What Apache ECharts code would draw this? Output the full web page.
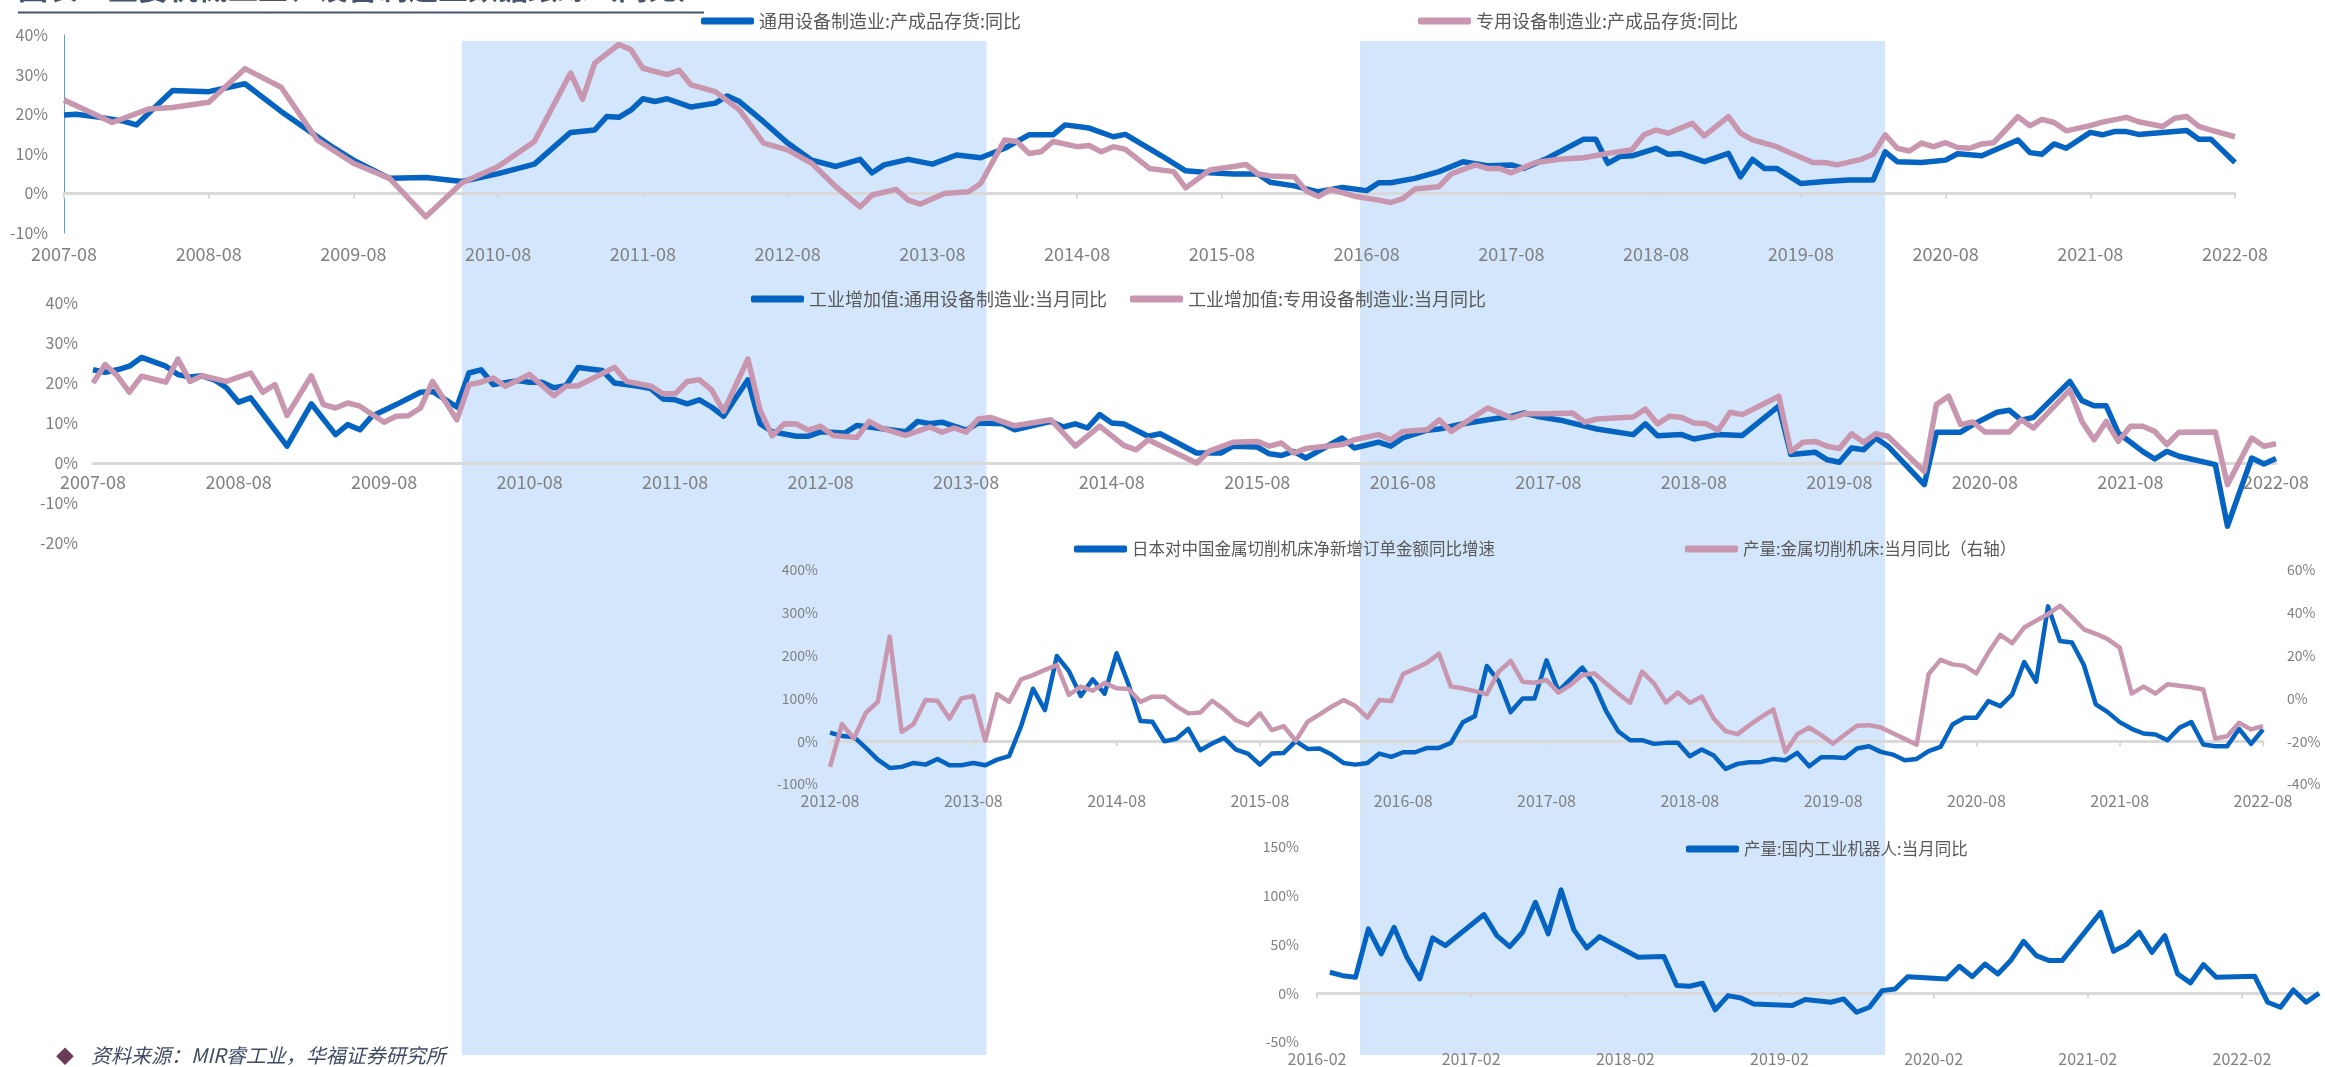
<!DOCTYPE html>
<html>
<head>
<meta charset="utf-8">
<script src="https://cdn.jsdelivr.net/npm/echarts@6.0.0/dist/echarts.min.js"></script>
<style>
html, body { margin: 0; padding: 0; background: #ffffff; }
#chart { width: 2325px; height: 1067px; }
</style>
</head>
<body>
<div id="chart"></div>
<script>
// ---------- categories ----------
function monthRange(start, end) {
  const out = [];
  let [y, m] = start.split('-').map(Number);
  const [ey, em] = end.split('-').map(Number);
  while (y < ey || (y === ey && m <= em)) {
    out.push(y + '-' + String(m).padStart(2, '0'));
    m += 1;
    if (m > 12) { m = 1; y += 1; }
  }
  return out;
}
const monthsLong = monthRange('2007-08', '2022-08');   // panels 1 & 2
const monthsTool = monthRange('2012-08', '2022-08');   // machine tools
const monthsRobot = monthRange('2016-02', '2022-08');  // industrial robots

// ---------- series names ----------
const NAME_INV_GEN = '通用设备制造业:产成品存货:同比';
const NAME_INV_SPE = '专用设备制造业:产成品存货:同比';
const NAME_VA_GEN = '工业增加值:通用设备制造业:当月同比';
const NAME_VA_SPE = '工业增加值:专用设备制造业:当月同比';
const NAME_JP = '日本对中国金属切削机床净新增订单金额同比增速';
const NAME_TOOL = '产量:金属切削机床:当月同比（右轴）';
const NAME_ROBOT = '产量:国内工业机器人:当月同比';

// ---------- values (%) ----------
const invGeneral = [['2007-08',19.8],['2007-09',20],['2007-11',19.2],['2008-01',18.2],['2008-02',17.3],['2008-05',26],['2008-08',25.7],['2008-11',27.7],['2009-02',20.7],['2009-06',12.2],['2009-08',8.4],['2009-11',3.8],['2010-02',4],['2010-05',3],['2010-08',5],['2010-11',7.4],['2011-02',15.4],['2011-04',16],['2011-05',19.4],['2011-06',19.2],['2011-07',21],['2011-08',23.9],['2011-09',23.2],['2011-10',23.9],['2011-12',21.8],['2012-02',22.8],['2012-03',24.6],['2012-04',23.2],['2012-06',18.1],['2012-08',12.7],['2012-10',8.4],['2012-12',6.8],['2013-02',8.6],['2013-03',5.2],['2013-04',7.2],['2013-06',8.6],['2013-08',7.4],['2013-10',9.7],['2013-12',9],['2014-02',11.4],['2014-04',14.8],['2014-06',14.8],['2014-07',17.3],['2014-09',16.5],['2014-11',14.3],['2014-12',14.9],['2015-03',9.5],['2015-05',5.7],['2015-07',5.2],['2015-09',4.9],['2015-11',4.9],['2015-12',2.8],['2016-02',1.9],['2016-04',0.4],['2016-06',1.5],['2016-08',0.7],['2016-09',2.7],['2016-10',2.7],['2016-12',3.8],['2017-02',5.5],['2017-04',8],['2017-06',7],['2017-08',7.2],['2017-09',6.3],['2017-11',8.9],['2018-02',13.7],['2018-03',13.7],['2018-04',7.6],['2018-05',9.3],['2018-06',9.5],['2018-08',11.4],['2018-09',9.9],['2018-10',10.1],['2018-12',8],['2019-02',10.1],['2019-03',4.2],['2019-04',8.6],['2019-05',6.3],['2019-06',6.3],['2019-08',2.5],['2019-10',3],['2019-12',3.4],['2020-02',3.4],['2020-03',10.5],['2020-04',8],['2020-06',7.8],['2020-08',8.4],['2020-09',10],['2020-11',9.5],['2021-02',13.5],['2021-03',10.3],['2021-04',9.9],['2021-05',12.5],['2021-06',11.4],['2021-08',15.4],['2021-09',14.8],['2021-10',15.6],['2021-11',15.6],['2021-12',14.9],['2022-02',15.4],['2022-04',15.9],['2022-05',13.7],['2022-06',13.7],['2022-08',7.8]];

const invSpecial = [['2007-08',23.6],['2007-12',17.9],['2008-03',21.3],['2008-05',21.7],['2008-08',23],['2008-11',31.5],['2009-02',26.8],['2009-05',13.5],['2009-08',7.6],['2009-11',3.8],['2010-02',-5.9],['2010-05',2.7],['2010-08',6.8],['2010-11',13.1],['2011-02',30.4],['2011-03',23.8],['2011-04',32.9],['2011-06',37.6],['2011-07',36.3],['2011-08',31.6],['2011-10',30],['2011-11',31.1],['2011-12',27.4],['2012-02',25.7],['2012-04',21.1],['2012-06',12.7],['2012-08',11],['2012-10',7.6],['2012-12',1.7],['2013-02',-3.4],['2013-03',-0.4],['2013-05',1],['2013-06',-1.7],['2013-07',-2.7],['2013-09',0],['2013-11',0.4],['2013-12',2.5],['2014-02',13.5],['2014-03',13.1],['2014-04',10.1],['2014-05',10.5],['2014-06',13.1],['2014-08',11.8],['2014-09',12.1],['2014-10',10.5],['2014-11',11.8],['2014-12',11.1],['2015-02',6.3],['2015-04',5.5],['2015-05',1.4],['2015-07',5.9],['2015-09',6.8],['2015-10',7.3],['2015-11',4.9],['2015-12',4.4],['2016-02',4.2],['2016-03',0.6],['2016-04',-0.8],['2016-05',1],['2016-07',-0.7],['2016-09',-1.7],['2016-10',-2.3],['2016-11',-1.3],['2016-12',1.1],['2017-02',1.7],['2017-03',4.9],['2017-05',7.2],['2017-06',6.3],['2017-07',6.3],['2017-08',5.2],['2017-10',7.8],['2017-12',8.6],['2018-02',9],['2018-04',10.1],['2018-06',11],['2018-07',14.8],['2018-08',16],['2018-09',15.2],['2018-11',17.7],['2018-12',14.5],['2019-02',19.4],['2019-03',15.2],['2019-04',13.5],['2019-06',11.8],['2019-07',10.4],['2019-09',7.8],['2019-10',7.8],['2019-11',7.2],['2020-01',8.6],['2020-02',9.9],['2020-03',14.8],['2020-04',11.4],['2020-05',10.7],['2020-06',12.7],['2020-07',11.8],['2020-08',12.8],['2020-09',11.6],['2020-10',11.4],['2020-11',12.5],['2020-12',12.8],['2021-02',19.4],['2021-03',17.1],['2021-04',18.7],['2021-05',17.9],['2021-06',15.8],['2021-08',17.1],['2021-09',18],['2021-11',19.2],['2021-12',18.1],['2022-02',16.9],['2022-03',19],['2022-04',19.4],['2022-05',16.9],['2022-06',16],['2022-08',14.3]];

const vaGeneral = [['2007-08',23.3],['2007-09',22.7],['2007-10',23.3],['2007-11',24.2],['2007-12',26.4],['2008-02',24.2],['2008-03',22.1],['2008-04',21.5],['2008-05',21.8],['2008-06',20.8],['2008-07',18.8],['2008-08',15.2],['2008-09',16.3],['2008-12',4.2],['2009-02',14.8],['2009-04',7.1],['2009-05',9.6],['2009-06',8.3],['2009-07',11.7],['2009-09',14.6],['2009-11',17.7],['2009-12',17.9],['2010-02',14],['2010-03',22.5],['2010-04',23.3],['2010-05',19.6],['2010-07',20.6],['2010-08',20.2],['2010-09',20.2],['2010-10',18.8],['2010-11',19.3],['2010-12',23.9],['2011-02',23.1],['2011-03',20],['2011-05',19.2],['2011-06',18.6],['2011-07',16],['2011-08',15.8],['2011-09',14.8],['2011-10',15.8],['2011-11',14],['2011-12',11.7],['2012-01',16.3],['2012-02',20.8],['2012-03',9.8],['2012-04',7.8],['2012-06',6.7],['2012-07',6.7],['2012-08',7.8],['2012-10',7.5],['2012-11',9.4],['2012-12',9],['2013-03',7.8],['2013-04',10.4],['2013-05',9.8],['2013-06',10.2],['2013-08',8.2],['2013-09',10],['2013-11',9.8],['2013-12',8.3],['2014-03',10.4],['2014-04',9],['2014-05',9.8],['2014-06',8.75],['2014-07',12.1],['2014-08',10],['2014-09',9.75],['2014-11',6.7],['2014-12',7.3],['2015-03',2.5],['2015-05',2.5],['2015-06',4.2],['2015-08',4],['2015-09',2.3],['2015-10',1.9],['2015-11',2.9],['2015-12',1.25],['2016-03',6.25],['2016-04',3.75],['2016-06',5.2],['2016-07',4.2],['2016-08',6.25],['2016-10',8.2],['2016-11',8.5],['2017-01',9.8],['2017-03',10.8],['2017-05',11.7],['2017-06',12.5],['2017-07',11.7],['2017-09',10.7],['2017-11',9.2],['2017-12',8.5],['2018-03',7.1],['2018-04',9.8],['2018-05',6.8],['2018-07',7.1],['2018-08',6],['2018-10',7.1],['2018-12',6.9],['2019-03',14.2],['2019-04',2.1],['2019-06',2.7],['2019-07',0.8],['2019-08',0.2],['2019-09',3.75],['2019-10',3.3],['2019-11',6.25],['2019-12',4.2],['2020-03',-5.4],['2020-04',7.7],['2020-06',7.7],['2020-07',9.6],['2020-09',12.7],['2020-10',13.2],['2020-11',10.7],['2020-12',11.4],['2021-03',20.4],['2021-04',15.6],['2021-05',14.3],['2021-06',14.3],['2021-07',7.5],['2021-09',2.9],['2021-10',1],['2021-11',2.9],['2021-12',1.7],['2022-03',-0.4],['2022-04',-15.8],['2022-06',1.25],['2022-07',-0.25],['2022-08',1.1]];

const vaSpecial = [['2007-08',20],['2007-09',24.6],['2007-10',21.8],['2007-11',17.7],['2007-12',21.7],['2008-02',20.2],['2008-03',26],['2008-04',20.4],['2008-05',21.8],['2008-07',20.4],['2008-09',22.5],['2008-10',17.7],['2008-11',19.6],['2008-12',11.9],['2009-02',21.8],['2009-03',14.6],['2009-04',13.75],['2009-05',15],['2009-06',14.2],['2009-08',10.2],['2009-09',11.7],['2009-10',11.8],['2009-11',13.75],['2009-12',20.4],['2010-02',10.8],['2010-03',19.6],['2010-04',20.2],['2010-05',21.25],['2010-06',19.2],['2010-08',22.1],['2010-10',16.8],['2010-11',19.2],['2010-12',19.3],['2011-03',23.9],['2011-04',20.4],['2011-06',19.2],['2011-07',17.3],['2011-08',17.3],['2011-09',20.4],['2011-10',20.8],['2011-11',18.3],['2011-12',12.9],['2012-02',26],['2012-03',13.3],['2012-04',6.8],['2012-05',9.8],['2012-06',9.75],['2012-07',8.2],['2012-08',9.2],['2012-09',6.9],['2012-11',6.4],['2012-12',10.4],['2013-01',8.75],['2013-03',6.9],['2013-05',9],['2013-06',7.7],['2013-07',8.75],['2013-08',7.7],['2013-09',11],['2013-10',11.4],['2013-12',9.3],['2014-03',10.8],['2014-05',4.2],['2014-07',9.2],['2014-09',4.4],['2014-10',3.3],['2014-11',5.8],['2015-03',0],['2015-04',2.9],['2015-06',5.2],['2015-08',5.4],['2015-09',4.2],['2015-10',5],['2015-11',2.5],['2015-12',3.6],['2016-03',4.6],['2016-04',5.8],['2016-06',7.1],['2016-07',5.8],['2016-08',7.9],['2016-10',8.3],['2016-11',10.8],['2016-12',7.9],['2017-03',13.75],['2017-05',11.25],['2017-06',12.3],['2017-08',12.3],['2017-10',12.5],['2017-11',10.2],['2017-12',11],['2018-03',11.5],['2018-04',13.5],['2018-05',9.8],['2018-06',11.7],['2018-07',11.4],['2018-08',10],['2018-09',9.8],['2018-10',8.2],['2018-11',12.7],['2018-12',12.1],['2019-03',16.7],['2019-04',2.9],['2019-05',5.2],['2019-06',5.4],['2019-07',4.2],['2019-08',3.6],['2019-09',7.3],['2019-10',5.2],['2019-11',7.3],['2019-12',6.7],['2020-03',-2.1],['2020-04',14.6],['2020-05',16.7],['2020-06',9.6],['2020-07',10.25],['2020-08',7.75],['2020-10',7.75],['2020-11',10.8],['2020-12',8.75],['2021-03',18.3],['2021-04',10.4],['2021-05',5.8],['2021-06',10.4],['2021-07',5.4],['2021-08',9.2],['2021-09',9.2],['2021-10',7.9],['2021-11',4.6],['2021-12',7.7],['2022-03',7.75],['2022-04',-5.4],['2022-06',6.25],['2022-07',4.2],['2022-08',4.8]];

// monthly, 2012-08 .. 2022-08 (left axis)
const jpOrders = [
  20, 12, 10, -15.6, -43, -62.5, -60, -50.8, -54.7, -41.4,
  -56, -56, -50.8, -56, -43, -35, 35, 122.7, 72.7, 199,
  164, 105.5, 144.5, 111, 205.5, 132.8, 47, 45.3, 0, 5.5,
  29, -21, -5.5, 7.8, -19.5, -29, -54.7, -29, -27.3, 0,
  -18, -17.2, -31.25, -50.8, -54.7, -50.8, -29, -36.7, -25.8, -25.8,
  -15.6, -15.6, -3.9, 44.5, 58.6, 175.8, 140.6, 68, 100, 100,
  189, 117, 144.5, 172, 133, 70, 23.4, 2.3, 2.3, -6.25,
  -3.9, -3.9, -35, -19.5, -33.6, -64.8, -53, -49, -48.4, -41.4,
  -44.5, -27.3, -58.6, -37.5, -37.5, -39, -17.2, -11.7, -25, -31.25,
  -44.5, -41.4, -23.4, -13.3, 39, 54.7, 54.7, 93.75, 82, 109.4,
  185, 139, 315, 234, 230.5, 178, 86, 68, 44.5, 29,
  18, 15.6, 2.3, 31.25, 44.5, -7.8, -11.7, -11.7, 29, -6.25,
  27.3
];

// monthly, 2012-08 .. 2022-08 (right axis)
const toolOutput = [
  -32, -12, -18.75, -6.7, -1.6, 28.9, -15.6, -12, -0.8, -1.1,
  -9.4, 0, 1.1, -19.8, 2, -1.6, 8.9, 10.9, 13.3, 15.6,
  1.6, 5.5, 3.6, 7.3, 4.7, 4.4, -1.6, 0.8, 0.8, -3.6,
  -7, -6.6, -1.1, -5.2, -10.2, -12.5, -7, -14.8, -13, -19.8,
  -10.9, -7.5, -3.9, -0.8, -3.6, -9, -0.8, -1.25, 11.4, 14,
  16.7, 20.8, 5.5, 4.7, 3.4, 2, 12.5, 17.5, 7.8, 7.3,
  8.6, 2.7, 6.25, 10.9, 11.7, 7, 2.3, -2, 12.5, 7,
  -1.9, 2.8, -2, 0.8, -9.4, -15.3, -16.7, -12.5, -8.6, -5.2,
  -25, -16.7, -13.6, -17.2, -21.1, -16.9, -12.8, -12.5, -13.6, null,
  null, -21.6, 11.4, 18, 15.9, 15.2, 11.7, 21.4, 29.7, 25.8,
  33.1, 36.25, 39.4, 43.3, 38, 32.3, 30.2, 27.7, 23.75, 2.3,
  5.5, 2.3, 6.6, 5.9, 5.2, 4.2, -18.75, -17.7, -11.4, -14.5,
  -13
];

const robotOutput = [['2016-03',21.5],['2016-04',18],['2016-05',16.4],['2016-06',66],['2016-07',40.3],['2016-08',67.7],['2016-09',37],['2016-10',14.7],['2016-11',56.8],['2016-12',48.9],['2017-03',80.7],['2017-04',59.1],['2017-05',47.9],['2017-06',62.6],['2017-07',93.3],['2017-08',60.9],['2017-09',106],['2017-10',65],['2017-11',46.5],['2017-12',58.1],['2018-03',37],['2018-05',37.6],['2018-06',7.9],['2018-07',7.2],['2018-08',10.3],['2018-09',-17],['2018-10',-2.4],['2018-11',-4.8],['2018-12',-11],['2019-03',-12.6],['2019-04',-6.5],['2019-06',-9.2],['2019-07',-5.8],['2019-08',-19.5],['2019-09',-14.4],['2019-10',2.7],['2019-11',4.4],['2019-12',17],['2020-03',14.7],['2020-04',27.7],['2020-05',17],['2020-06',30],['2020-07',19.8],['2020-08',33.5],['2020-09',53.3],['2020-10',38.6],['2020-11',33.5],['2020-12',33.5],['2021-03',83],['2021-04',43],['2021-05',49.9],['2021-06',62.6],['2021-07',42],['2021-08',59.1],['2021-09',19.8],['2021-10',10.6],['2021-11',29.4],['2021-12',16.4],['2022-03',17.4],['2022-04',-9.2],['2022-05',-14.4],['2022-06',3.4],['2022-07',-9.2],['2022-08',0]];

// shaded periods
const bandRanges = [['2010-05-01', '2013-12-15'], ['2016-07-15', '2020-03-01']];

// ---------- styling ----------
const FONT = "'Noto Sans CJK SC', 'Noto Sans', sans-serif";
const BLUE = '#0563C1';
const PINK = '#C896AE';
const BAND = '#D4E6FB';
const ZERO_LINE = '#D9D9D9';
const TICK_TEXT = '#808080';
const LEGEND_TEXT = '#595959';
const TITLE = '图表：主要机械工业、设备制造业数据跟踪（同比）';
const SOURCE = '资料来源：MIR睿工业，华福证券研究所';

function toTime(s) {
  const [y, m, d] = s.split('-').map(Number);
  return new Date(y, m - 1, d).getTime();
}

// axis carrying the zero line and tick marks
function zeroAxis(gridIndex, months, withTicks) {
  return {
    type: 'category', gridIndex, data: months, boundaryGap: false, z: 1,
    axisLine: { show: true, onZero: true, lineStyle: { color: ZERO_LINE, width: 3 } },
    axisTick: { show: withTicks, interval: 11, length: 5, lineStyle: { color: ZERO_LINE, width: 2 } },
    axisLabel: { show: false },
    splitLine: { show: false }
  };
}
// axis carrying only the date labels (offset lifts it from the grid bottom)
function labelAxis(gridIndex, months, fontSize, margin, offset) {
  return {
    type: 'category', gridIndex, data: months, boundaryGap: false, position: 'bottom', z: 1,
    offset: offset || 0,
    axisLine: { show: false, onZero: false },
    axisTick: { show: false },
    axisLabel: { interval: 11, fontSize, color: TICK_TEXT, fontFamily: FONT, margin },
    splitLine: { show: false }
  };
}
function pctAxis(gridIndex, min, max, interval, fontSize, margin, extra) {
  return Object.assign({
    type: 'value', gridIndex, min, max, interval, z: 1,
    axisLine: { show: false },
    axisTick: { show: false },
    splitLine: { show: false },
    axisLabel: { formatter: '{value}%', fontSize, color: TICK_TEXT, fontFamily: FONT, margin }
  }, extra || {});
}
function lineSeries(name, xAxisIndex, yAxisIndex, data, color, width) {
  return {
    type: 'line', name, xAxisIndex, yAxisIndex, data,
    symbol: 'none', showSymbol: false, connectNulls: true, z: 3,
    lineStyle: { color, width, join: 'round' },
    itemStyle: { color }
  };
}
function legendAt(name, left, centerY, fontSize) {
  return {
    data: [{ name, icon: 'roundRect' }],
    left, top: centerY - 12, padding: 0,
    itemWidth: 53, itemHeight: 7, itemGap: 0,
    selectedMode: false,
    textStyle: { fontSize, color: LEGEND_TEXT, fontFamily: FONT, lineHeight: 24 }
  };
}

const chart = echarts.init(document.getElementById('chart'), null, { renderer: 'canvas' });

const option = {
  animation: false,
  backgroundColor: '#ffffff',
  grid: [
    { left: 64, top: 35, width: 2171, height: 198, outerBoundsMode: 'none' },   // inventories
    { left: 93, top: 303, width: 2183, height: 240, outerBoundsMode: 'none' },  // value added
    { left: 830, top: 570, width: 1433, height: 214, outerBoundsMode: 'none' }, // machine tools
    { left: 1317, top: 847, width: 1002, height: 195, outerBoundsMode: 'none' }, // robots
    { left: 64, top: 41, width: 2171, height: 1014, outerBoundsMode: 'none' }   // shaded periods
  ],
  xAxis: [
    zeroAxis(0, monthsLong, true),
    labelAxis(0, monthsLong, 18, 12),
    zeroAxis(1, monthsLong, false),
    zeroAxis(2, monthsTool, true),
    labelAxis(2, monthsTool, 16, 9),
    zeroAxis(3, monthsRobot, true),
    labelAxis(3, monthsRobot, 16, 9),
    { type: 'time', gridIndex: 4, min: toTime('2007-08-01'), max: toTime('2022-08-01'), show: false },
    labelAxis(1, monthsLong, 18, 10, -80)
  ],
  yAxis: [
    pctAxis(0, -10, 40, 10, 16, 16, { axisLine: { show: true, onZero: false, lineStyle: { color: '#5B9BD5', width: 1 } } }),
    pctAxis(1, -20, 40, 10, 16, 15),
    pctAxis(2, -100, 400, 100, 14, 12),
    pctAxis(2, -40, 60, 20, 14, 24, { position: 'right' }),
    pctAxis(3, -50, 150, 50, 14, 18),
    { type: 'value', gridIndex: 4, min: 0, max: 1, show: false }
  ],
  legend: [
    legendAt(NAME_INV_GEN, 701, 21, 18),
    legendAt(NAME_INV_SPE, 1418, 21, 18),
    legendAt(NAME_VA_GEN, 751, 299, 18),
    legendAt(NAME_VA_SPE, 1130, 299, 18),
    legendAt(NAME_JP, 1074, 549, 16.5),
    legendAt(NAME_TOOL, 1685, 549, 16.5),
    legendAt(NAME_ROBOT, 1686, 849, 16.5)
  ],
  series: [
    {
      type: 'line', name: 'periods', xAxisIndex: 7, yAxisIndex: 5, data: [],
      silent: true, z: 0,
      markArea: {
        silent: true,
        itemStyle: { color: BAND },
        data: bandRanges.map(([a, b]) => [{ xAxis: toTime(a) }, { xAxis: toTime(b) }])
      }
    },
    lineSeries(NAME_INV_GEN, 0, 0, invGeneral, BLUE, 5.5),
    lineSeries(NAME_INV_SPE, 0, 0, invSpecial, PINK, 5.5),
    lineSeries(NAME_VA_GEN, 2, 1, vaGeneral, BLUE, 5.5),
    lineSeries(NAME_VA_SPE, 2, 1, vaSpecial, PINK, 5.5),
    lineSeries(NAME_JP, 3, 2, jpOrders, BLUE, 4.5),
    lineSeries(NAME_TOOL, 3, 3, toolOutput, PINK, 4.5),
    lineSeries(NAME_ROBOT, 5, 4, robotOutput, BLUE, 5)
  ],
  graphic: [
    { type: 'text', left: 18, top: -27, z: 10,
      style: { text: TITLE, fill: '#44546A', font: 'bold 30px ' + FONT } },
    { type: 'line', z: 10, shape: { x1: 18, y1: 12.5, x2: 704, y2: 12.5 },
      style: { stroke: '#44546A', lineWidth: 2 } },
    { type: 'text', left: 56, top: 1047, z: 10,
      style: { text: '◆', fill: '#6B3A54', font: '18px ' + FONT } },
    { type: 'text', left: 91, top: 1045, z: 10,
      style: { text: SOURCE, fill: '#3F4C63', font: 'italic 20px ' + FONT } }
  ]
};

chart.setOption(option);
</script>
</body>
</html>
